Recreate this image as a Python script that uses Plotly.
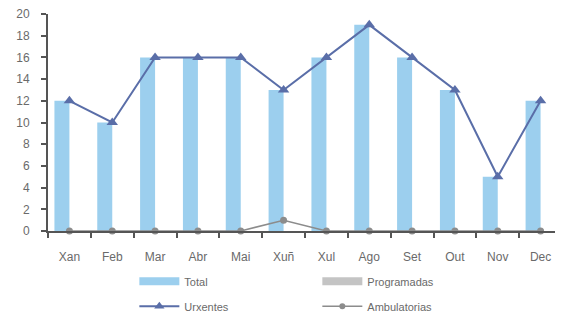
import plotly.graph_objects as go

months = ["Xan", "Feb", "Mar", "Abr", "Mai", "Xuñ", "Xul", "Ago", "Set", "Out", "Nov", "Dec"]
total = [12, 10, 16, 16, 16, 13, 16, 19, 16, 13, 5, 12]
programadas = [0, 0, 0, 0, 0, 0, 0, 0, 0, 0, 0, 0]
urxentes = [12, 10, 16, 16, 16, 13, 16, 19, 16, 13, 5, 12]
ambulatorias = [0, 0, 0, 0, 0, 1, 0, 0, 0, 0, 0, 0]
y_ticks = list(range(0, 21, 2))

BLUE = "#9ccfee"
GREY_BAR = "#c4c4c4"
URX = "#5a6ea8"
AMB = "#8c8c8c"
TXT = "#6a6a6a"
AXIS = "#555555"

fig = go.Figure()
fig.add_trace(go.Bar(x=months, y=total, name="Total", marker=dict(color=BLUE, line_width=0),
                     showlegend=False, legendgroup="total"))
fig.add_trace(go.Bar(x=months, y=programadas, name="Programadas", marker=dict(color=GREY_BAR, line_width=0),
                     showlegend=False, legendgroup="prog"))
fig.add_trace(go.Scatter(x=months, y=urxentes, name="Urxentes", mode="lines+markers",
                         line=dict(color=URX, width=2),
                         marker=dict(symbol="triangle-up", size=10, color=URX),
                         cliponaxis=False, showlegend=False, legendgroup="urx"))
fig.add_trace(go.Scatter(x=months, y=ambulatorias, name="Ambulatorias", mode="lines+markers",
                         line=dict(color=AMB, width=1.5),
                         marker=dict(symbol="circle", size=7, color=AMB),
                         cliponaxis=False, showlegend=False, legendgroup="amb"))

# legend entries (wide swatch style like the original)
fig.add_trace(go.Scatter(x=[None], y=[None], name="Total", mode="lines",
                         line=dict(color=BLUE, width=8), legend="legend", legendgroup="total"))
fig.add_trace(go.Scatter(x=[None], y=[None], name="Urxentes", mode="lines+markers",
                         line=dict(color=URX, width=2),
                         marker=dict(symbol="triangle-up", size=9, color=URX),
                         legend="legend", legendgroup="urx"))
fig.add_trace(go.Scatter(x=[None], y=[None], name="Programadas", mode="lines",
                         line=dict(color=GREY_BAR, width=8), legend="legend2", legendgroup="prog"))
fig.add_trace(go.Scatter(x=[None], y=[None], name="Ambulatorias", mode="lines+markers",
                         line=dict(color=AMB, width=1.5),
                         marker=dict(symbol="circle", size=6, color=AMB),
                         legend="legend2", legendgroup="amb"))

leg_common = dict(orientation="v", yanchor="top", y=-0.165, xanchor="left",
                  font=dict(size=11, color=TXT), traceorder="grouped",
                  bgcolor="rgba(0,0,0,0)", itemwidth=40, tracegroupgap=6)

# page body has an 8px margin, so the figure is 8px smaller than the window
fig.update_layout(
    width=555, height=309,
    margin=dict(l=40, r=1, t=6, b=86, autoexpand=False),
    paper_bgcolor="white", plot_bgcolor="white",
    font=dict(family="Liberation Sans, Arial, sans-serif", size=12, color=TXT),
    barmode="group", bargap=0.3, bargroupgap=0,
    showlegend=True,
    legend=dict(x=0.168, **leg_common),
    legend2=dict(x=0.524, **leg_common),
)
fig.update_xaxes(range=[-0.5, 11.5], showline=True, linecolor=AXIS, linewidth=2, ticks="outside",
                 tickson="boundaries", ticklen=5, tickcolor=AXIS, tickwidth=1.5,
                 ticklabelstandoff=14, automargin=False,
                 showgrid=False, zeroline=False, tickfont=dict(size=12, color=TXT))
fig.update_yaxes(range=[0, 20], tickvals=y_ticks, showline=True, linecolor=AXIS,
                 linewidth=2, ticks="outside", ticklen=5, tickcolor=AXIS, tickwidth=1.5,
                 ticklabelstandoff=9, ticklabeloverflow="allow", automargin=False,
                 showgrid=False, zeroline=False, tickfont=dict(size=12, color=TXT))

fig.write_html("out.html")
